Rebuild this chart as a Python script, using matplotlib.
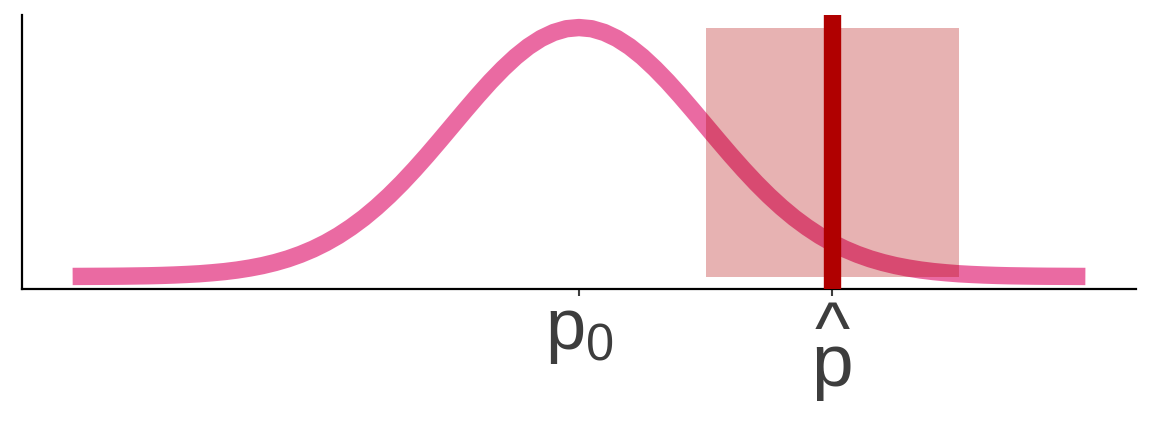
import matplotlib
matplotlib.use("Agg")
import matplotlib.pyplot as plt

# density curve (x in sd units around p0)
curve_x = [-4.0, -3.9, -3.8, -3.7, -3.6, -3.5, -3.4, -3.3, -3.2, -3.1,
           -3.0, -2.9, -2.8, -2.7, -2.6, -2.5, -2.4, -2.3, -2.2, -2.1,
           -2.0, -1.9, -1.8, -1.7, -1.6, -1.5, -1.4, -1.3, -1.2, -1.1,
           -1.0, -0.9, -0.8, -0.7, -0.6, -0.5, -0.4, -0.3, -0.2, -0.1,
           0.0,
           0.1, 0.2, 0.3, 0.4, 0.5, 0.6, 0.7, 0.8, 0.9, 1.0,
           1.1, 1.2, 1.3, 1.4, 1.5, 1.6, 1.7, 1.8, 1.9, 2.0,
           2.1, 2.2, 2.3, 2.4, 2.5, 2.6, 2.7, 2.8, 2.9, 3.0,
           3.1, 3.2, 3.3, 3.4, 3.5, 3.6, 3.7, 3.8, 3.9, 4.0]
curve_y = [0.0001, 0.0002, 0.0003, 0.0004, 0.0006, 0.0009, 0.0012, 0.0017, 0.0024, 0.0033,
           0.0044, 0.0060, 0.0079, 0.0104, 0.0136, 0.0175, 0.0224, 0.0283, 0.0355, 0.0440,
           0.0540, 0.0656, 0.0790, 0.0940, 0.1109, 0.1295, 0.1497, 0.1714, 0.1942, 0.2179,
           0.2420, 0.2661, 0.2897, 0.3123, 0.3332, 0.3521, 0.3683, 0.3814, 0.3910, 0.3970,
           0.3989,
           0.3970, 0.3910, 0.3814, 0.3683, 0.3521, 0.3332, 0.3123, 0.2897, 0.2661, 0.2420,
           0.2179, 0.1942, 0.1714, 0.1497, 0.1295, 0.1109, 0.0940, 0.0790, 0.0656, 0.0540,
           0.0440, 0.0355, 0.0283, 0.0224, 0.0175, 0.0136, 0.0104, 0.0079, 0.0060, 0.0044,
           0.0033, 0.0024, 0.0017, 0.0012, 0.0009, 0.0006, 0.0004, 0.0003, 0.0002, 0.0001]

p0 = 0.0
p_hat = 2.0
ci_low, ci_high = 1.0, 3.0
ci_top = 0.3989

tick_pos = [p0, p_hat]
tick_labels = [r"$\mathregular{p_0}$", "^\np"]

plt.rcParams["mathtext.fontset"] = "custom"
plt.rcParams["mathtext.rm"] = "Liberation Sans"
plt.rcParams["mathtext.it"] = "Liberation Sans"
plt.rcParams["font.family"] = "Liberation Sans"

fig = plt.figure(figsize=(11.52, 4.22), dpi=100)
ax = fig.add_axes([22 / 1152, 133 / 422, 1114 / 1152, 274 / 422])

ax.plot(curve_x, curve_y, color="#EA6AA2", lw=12.5, solid_capstyle="butt",
        solid_joinstyle="round", zorder=2)
ax.fill_between([ci_low, ci_high], 0, ci_top, color="#B00000", alpha=0.3, lw=0, zorder=3)
ax.axvline(p_hat, color="#B00000", lw=12.5, zorder=4)

ax.set_xlim(-4.4, 4.4)
ax.set_ylim(-0.02, 0.419)
ax.set_xticks(tick_pos)
ax.set_xticklabels(tick_labels, fontsize=52, color="#3D3D3D")
ax.tick_params(axis="x", length=5, width=1.5, color="#3D3D3D", pad=2)
ax.set_yticks([])
hat_label = ax.get_xticklabels()[1]
hat_label.set_linespacing(0.33)
hat_label.set_multialignment("center")
hat_label.set_fontsize(54)

for s in ["top", "right"]:
    ax.spines[s].set_visible(False)
for s in ["left", "bottom"]:
    ax.spines[s].set_linewidth(1.6)
    ax.spines[s].set_color("black")

fig.savefig("out.png", dpi=100)
